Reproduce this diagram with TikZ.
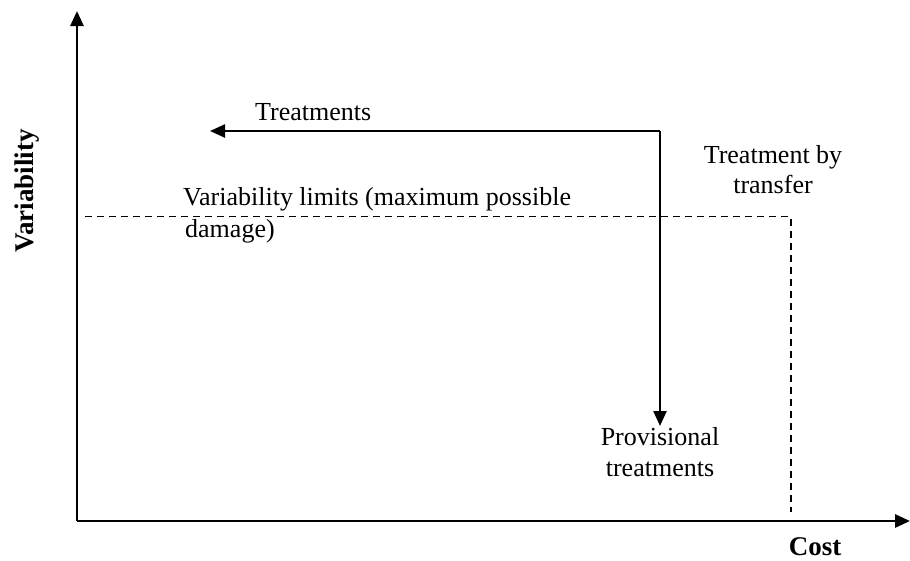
\documentclass[tikz,border=0pt]{standalone}
\usepackage{fontspec}
\setmainfont{Liberation Serif}
\usetikzlibrary{arrows.meta}
\begin{document}
\begin{tikzpicture}[x=1pt,y=-1pt,
  lbl/.style={inner sep=0pt,font=\fontsize{26}{31}\selectfont},
  axlbl/.style={inner sep=0pt,font=\fontsize{27}{32}\selectfont\bfseries},
  axis/.style={line width=2.8pt,-{Triangle[length=15pt,width=13pt]}},
  flow/.style={line width=2.4pt,-{Triangle[length=15pt,width=13pt]}},
  limit/.style={line width=1.8pt,dash pattern=on 7pt off 5pt}]
\useasboundingbox (0,0) rectangle (910,560);
% axes
\coordinate (O) at (77,521);
\coordinate (ytop) at (77,11);
\coordinate (xend) at (910,521);
\draw[axis] (O) -- (ytop);
\draw[axis] (O) -- (xend);
% treatments arrows
\coordinate (corner) at (660,131);
\coordinate (ltip) at (210,131);
\coordinate (dtip) at (660,426);
\draw[flow] (corner) -- (ltip);
\draw[flow] (corner) -- (dtip);
% variability limit
\coordinate (ls) at (85,216.5);
\coordinate (lc) at (791,216.5);
\coordinate (le) at (791,512);
\draw[limit] (ls) -- (lc) -- (le);
% labels
\node[lbl,anchor=base west] (treat) at (255,120) {Treatments};
\node[lbl,anchor=base west] (vl1) at (183,205) {Variability limits (maximum possible};
\node[lbl,anchor=base west] (vl2) at (185,237) {damage)};
\node[lbl,anchor=base] (tb1) at (773,163) {Treatment by};
\node[lbl,anchor=base] (tb2) at (773,193) {transfer};
\node[lbl,anchor=base] (pv1) at (660,445) {Provisional};
\node[lbl,anchor=base] (pv2) at (660,476) {treatments};
\node[axlbl,anchor=base] (cost) at (815,555) {Cost};
\node[axlbl,anchor=base,rotate=90] (var) at (33,191) {Variability};
\end{tikzpicture}
\end{document}
